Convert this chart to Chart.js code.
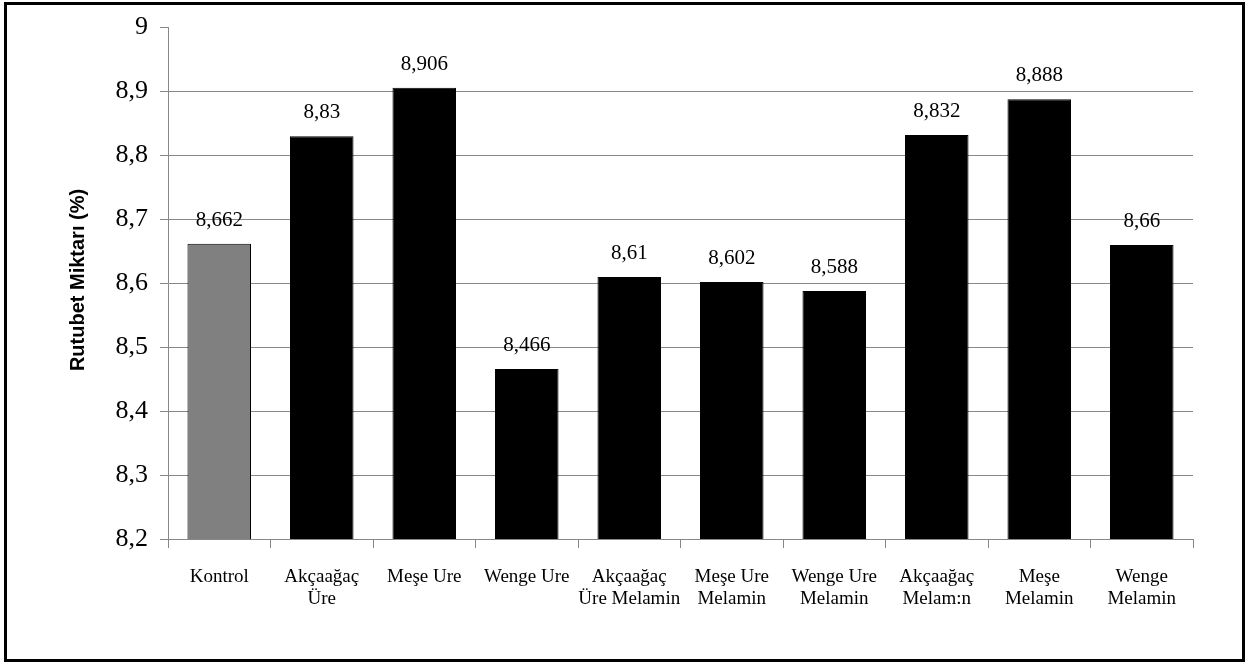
<!DOCTYPE html>
<html>
<head>
<meta charset="utf-8">
<script src="https://cdn.jsdelivr.net/npm/chart.js@4"></script>
<style>
  html, body { margin: 0; padding: 0; background: #fff; }
  #wrap { width: 1249px; height: 666px; }
</style>
</head>
<body>
<div id="wrap"><canvas id="nemChart" width="1249" height="666"></canvas></div>
<script>
  // Moisture content per sample group
  const groups = [
    "Kontrol", ["Akçaağaç", "Üre"], "Meşe Ure", "Wenge Ure",
    ["Akçaağaç", "Üre Melamin"], ["Meşe Ure", "Melamin"], ["Wenge Ure", "Melamin"],
    ["Akçaağaç", "Melam:n"], ["Meşe", "Melamin"], ["Wenge", "Melamin"]
  ];
  const moisture = [8.662, 8.83, 8.906, 8.466, 8.61, 8.602, 8.588, 8.832, 8.888, 8.66];
  const barColors = ["#808080", "#000", "#000", "#000", "#000", "#000", "#000", "#000", "#000", "#000"];
  const yTicks = [8.2, 8.3, 8.4, 8.5, 8.6, 8.7, 8.8, 8.9, 9];
  const yTitle = "Rutubet Miktarı (%)";

  const fmt = v => String(Math.round(v * 1000) / 1000).replace(".", ",");

  // value labels above each bar
  const valueLabels = {
    id: "valueLabels",
    afterDatasetsDraw(chart) {
      const ctx = chart.ctx;
      const meta = chart.getDatasetMeta(0);
      ctx.save();
      ctx.font = "21px 'Liberation Serif'";
      ctx.fillStyle = "#000";
      ctx.textAlign = "center";
      ctx.textBaseline = "alphabetic";
      meta.data.forEach((bar, i) => {
        ctx.fillText(fmt(moisture[i]), bar.x, bar.y - 18);
      });
      ctx.restore();
    }
  };

  // frame round the chart plus the rotated axis title
  const frame = {
    id: "frame",
    afterDraw(chart) {
      const ctx = chart.ctx;
      ctx.save();
      ctx.strokeStyle = "#000";
      ctx.lineWidth = 3;
      ctx.strokeRect(5.5, 3.5, 1238, 657);
      ctx.translate(78, 280);
      ctx.rotate(-Math.PI / 2);
      ctx.font = "bold 20px 'Liberation Sans'";
      ctx.textAlign = "center";
      ctx.textBaseline = "middle";
      ctx.fillText(yTitle, 0, 0);
      ctx.restore();
    }
  };

  new Chart("nemChart", {
    type: "bar",
    data: {
      labels: groups,
      datasets: [{
        data: moisture,
        backgroundColor: barColors,
        borderColor: "#000",
        borderWidth: 1,
        categoryPercentage: 1,
        barPercentage: 0.62
      }]
    },
    options: {
      responsive: false,
      animation: false,
      events: [],
      layout: { padding: { top: 25, right: 56, left: 0, bottom: 0 } },
      plugins: { legend: { display: false }, tooltip: { enabled: false } },
      scales: {
        x: {
          grid: { drawOnChartArea: false, drawTicks: true, tickLength: 9, color: "#888" },
          border: { color: "#888", width: 1 },
          ticks: {
            color: "#000",
            padding: 18,
            maxRotation: 0,
            autoSkip: false,
            font: { family: "'Liberation Serif'", size: 19, lineHeight: 1.15 }
          },
          afterFit: s => { s.height = 127; }
        },
        y: {
          min: 8.2,
          max: 9,
          afterBuildTicks: s => { s.ticks = yTicks.map(v => ({ value: v })); },
          grid: {
            color: c => (c.tick && c.tick.value === 9 ? "rgba(0,0,0,0)" : "#888"),
            tickColor: "#888",
            tickLength: 8
          },
          border: { color: "#888", width: 1 },
          ticks: {
            color: "#000",
            padding: 12,
            font: { family: "'Liberation Serif'", size: 26 },
            callback: v => fmt(v)
          },
          afterFit: s => { s.width = 168; }
        }
      }
    },
    plugins: [valueLabels, frame]
  });
</script>
</body>
</html>
